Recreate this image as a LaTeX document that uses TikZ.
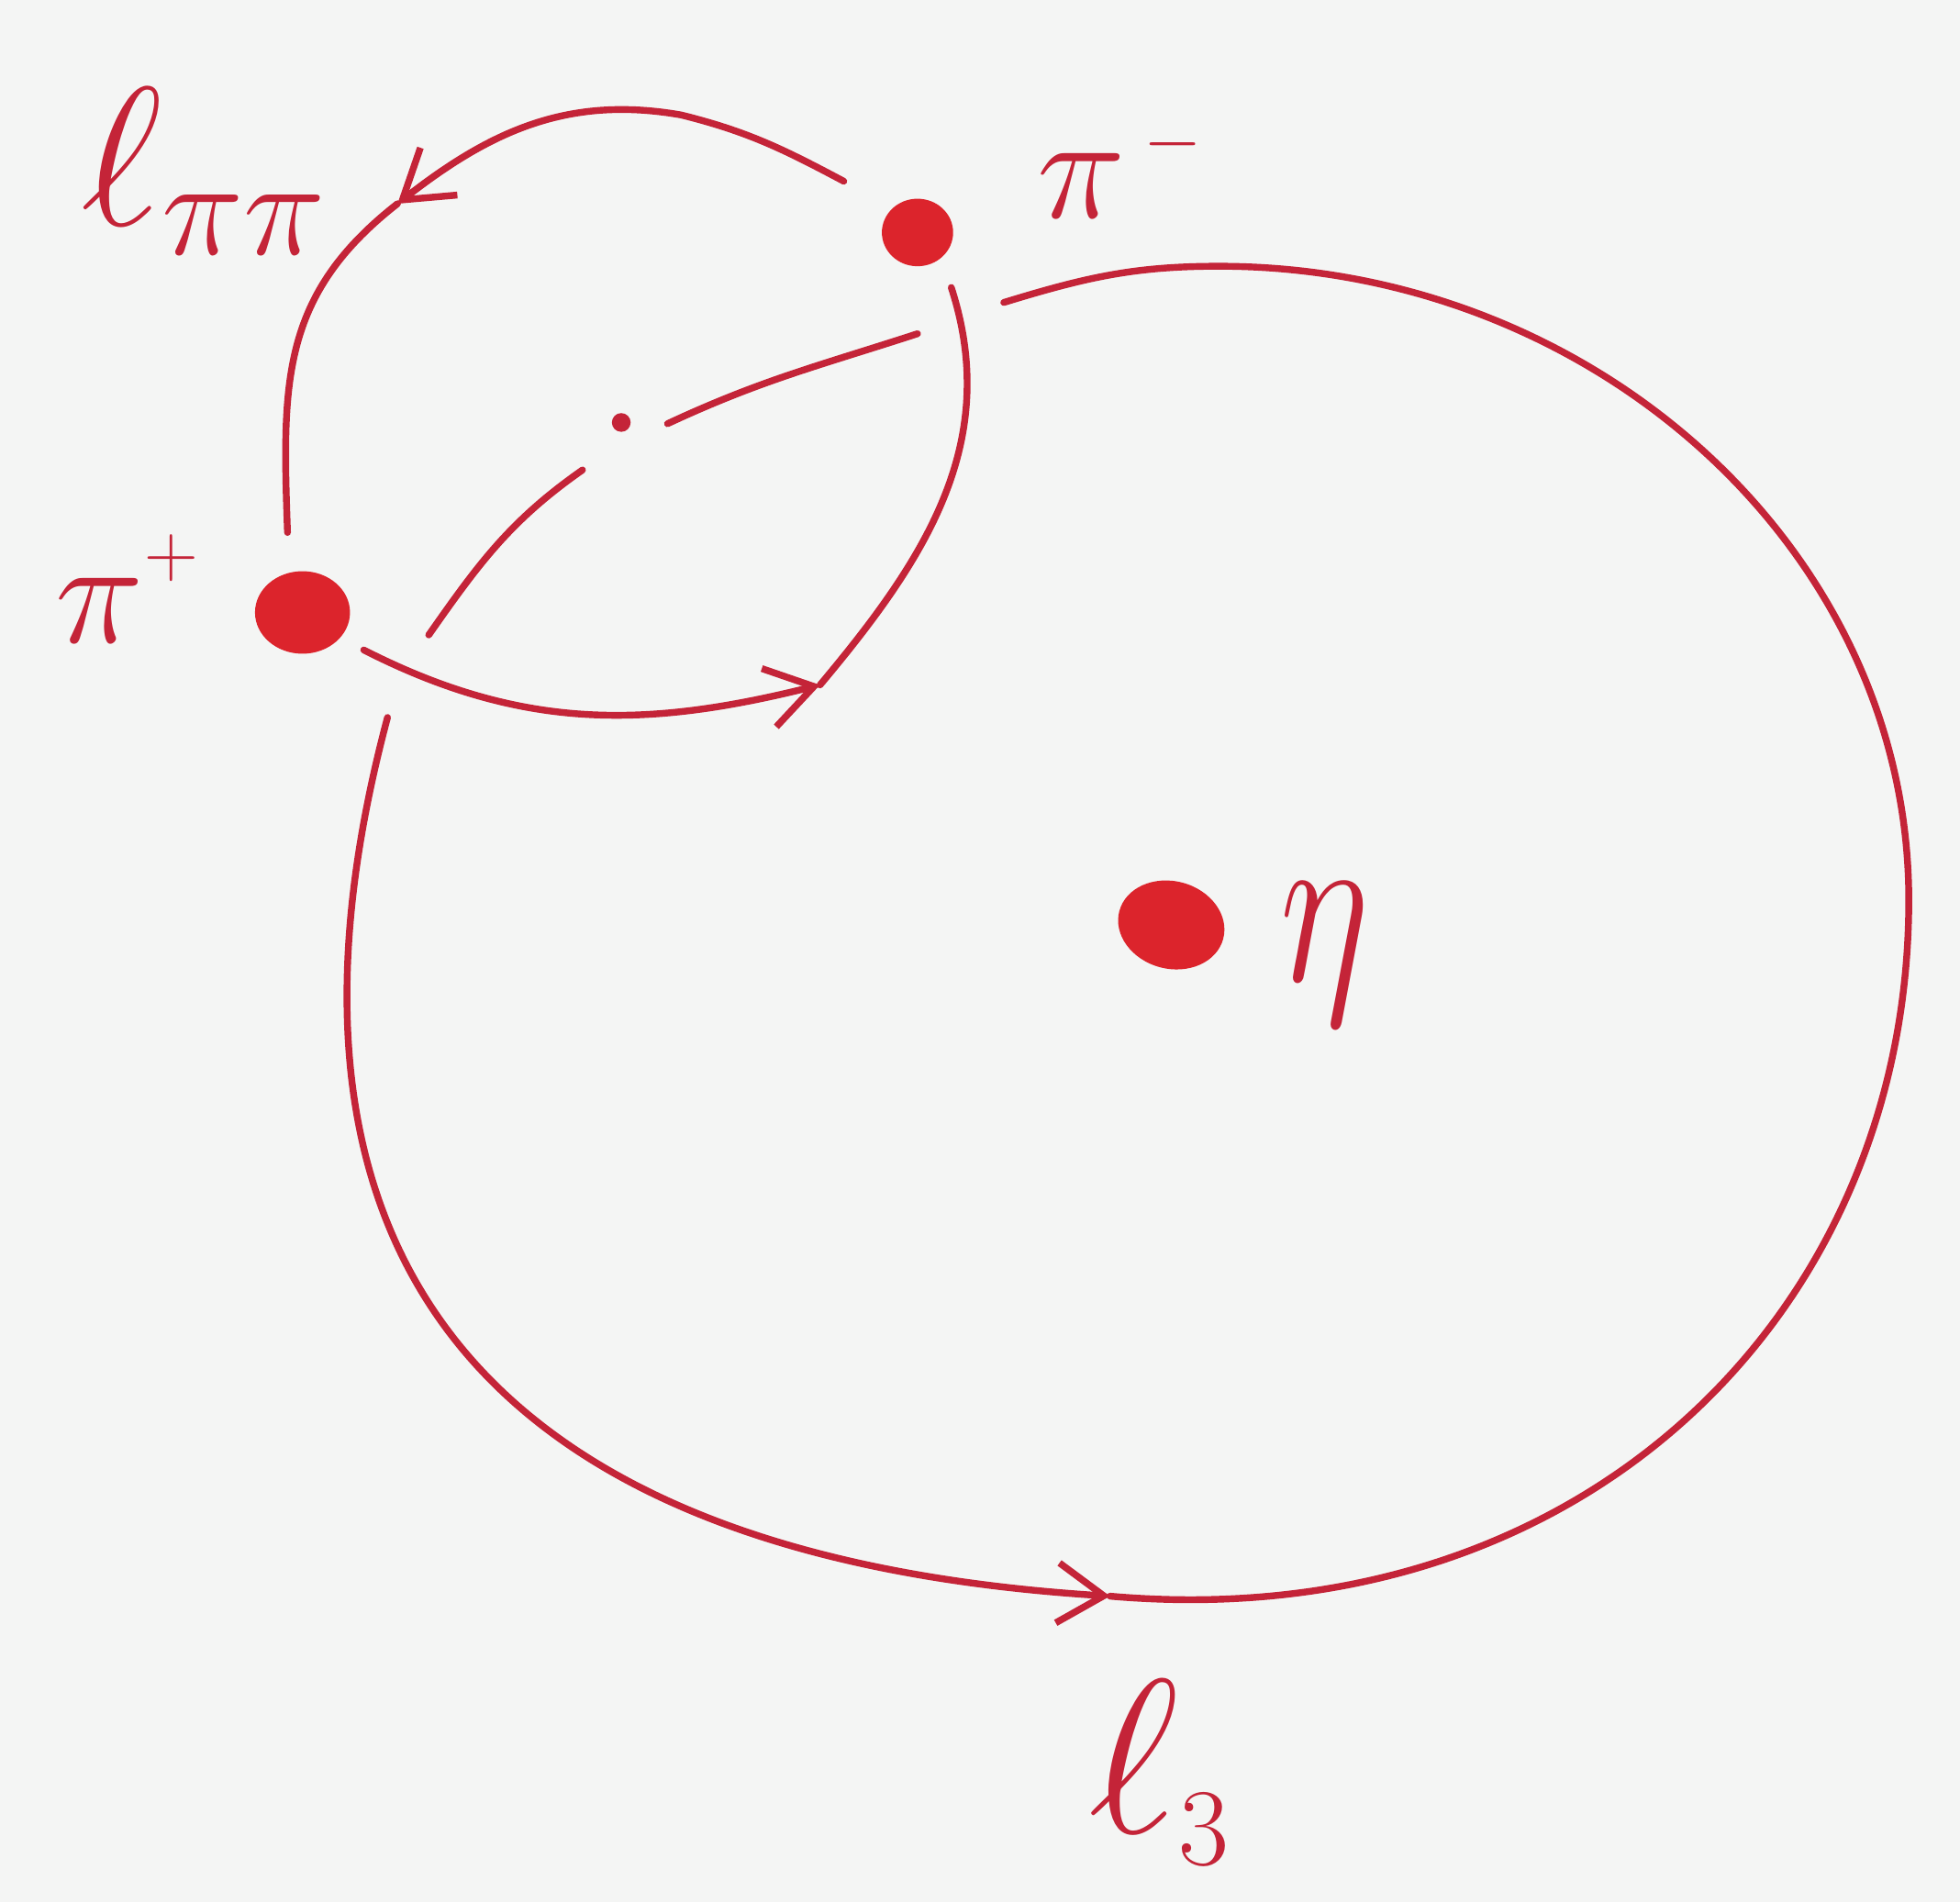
\RequirePackage{fix-cm}
\documentclass[tikz,border=0pt]{standalone}
\usepackage{amsmath, amssymb}
\usepackage{xcolor}
\usepackage{tikz}
\usetikzlibrary{arrows.meta, calc, shapes.geometric}

\definecolor{inkred}{RGB}{196,36,56}
\definecolor{dotred}{RGB}{220,36,44}
\definecolor{paper}{RGB}{244,245,244}

\begin{document}
\begin{tikzpicture}[>=Stealth, line width=1.55pt,
    ink/.style={draw=inkred, line cap=round, line join=round},
    barb/.style={-{Straight Barb[length=3.7mm, width=4.8mm]}},
    blob/.style={ellipse, fill=dotred, inner sep=0pt},
    lbl/.style={text=inkred, inner sep=0pt}]
    % Paper
    \fill[paper] (0,0) rectangle (15.68,-15.22);
    \useasboundingbox (0,0) rectangle (15.68,-15.22);
    % Particles
    \node[blob, minimum width=5.7mm, minimum height=5.4mm] (pim) at (7.34,-1.86) {};
    \node[blob, minimum width=7.6mm, minimum height=6.6mm] (pip) at (2.42,-4.90) {};
    \node[blob, minimum width=8.6mm, minimum height=7mm, rotate=-15] (eta) at (9.37,-7.40) {};
    \node[circle, fill=inkred, minimum size=1.5mm, inner sep=0pt] (vtx) at (4.97,-3.38) {};
    % Labels
    \node[lbl, anchor=base west, font=\fontsize{34}{34}\selectfont] (pimlabel) at (8.27,-1.74) {$\pi^{\kern0.12em\scriptscriptstyle -}$};
    \node[lbl, anchor=base west, font=\fontsize{34}{34}\selectfont] (piplabel) at (0.42,-5.14) {$\pi^{\raisebox{0.08em}{$\scriptscriptstyle +$}}$};
    \node[lbl, anchor=base, xscale=0.75, font=\fontsize{52}{52}\selectfont] (etalabel) at (10.60,-7.85) {$\eta$};
    \node[lbl, anchor=base west, font=\fontsize{45}{45}\selectfont] (lpplabel) at (0.62,-1.80) {$\ell_{\pi\pi}$};
    \node[lbl, anchor=base west, font=\fontsize{50}{50}\selectfont] (lthree) at (8.68,-14.66) {$\ell_{\scriptscriptstyle 3}$};
    % Loop l_pipi, upper half (pi- to pi+)
    \coordinate (t1) at (6.75,-1.45);
    \coordinate (tp) at (5.45,-0.92);
    \coordinate (ta) at (3.18,-1.63);
    \coordinate (t2) at (2.30,-4.26);
    \draw[ink, barb] (t1) to[out=152, in=-14] (tp) to[out=170, in=38] (ta);
    \draw[ink] (ta) to[out=218, in=92, looseness=1.1] (t2);
    % Loop l_pipi, lower half (pi+ to pi-)
    \coordinate (b1) at (2.91,-5.20);
    \coordinate (b2) at (6.56,-5.48);
    \coordinate (b3) at (7.61,-2.30);
    \draw[ink, barb] (b1) to[out=-27, in=194] (b2);
    \draw[ink] (b2) to[out=50, in=-72] (b3);
    % Line through the vertex
    \coordinate (s1) at (7.34,-2.67);
    \coordinate (s2) at (5.34,-3.39);
    \coordinate (s3) at (4.66,-3.76);
    \coordinate (s4) at (3.43,-5.08);
    \draw[ink] (s1) to[out=198, in=25] (s2);
    \draw[ink] (s3) to[out=215, in=55] (s4);
    % Big loop l_3 round eta
    \coordinate (c1) at (3.10,-5.74);
    \coordinate (ca) at (8.88,-12.77);
    \coordinate (cr) at (15.27,-7.20);
    \coordinate (ct) at (9.75,-2.13);
    \coordinate (c2) at (8.03,-2.42);
    \draw[ink, barb] (c1) .. controls +(-1.2,-4.5) and +(-4.8,0.3) .. (ca);
    \draw[ink] (ca) .. controls +(-5:3.8) and +(0,-3.3) .. (cr)
        .. controls +(0,2.8) and +(3.0,0) .. (ct)
        to[out=180, in=17] (c2);
\end{tikzpicture}
\end{document}
